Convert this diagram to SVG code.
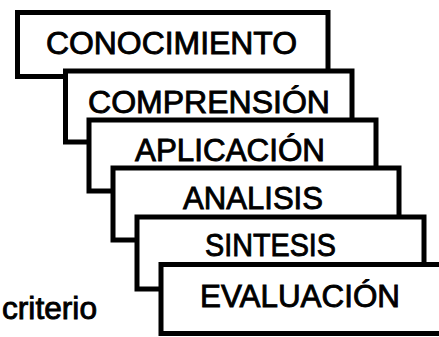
<svg xmlns="http://www.w3.org/2000/svg" width="439" height="337" viewBox="0 0 439 337">
<style>
.box{fill:#fff;stroke:#000;stroke-width:5;stroke-linejoin:miter}
.lbl{font-family:"Liberation Sans",Arial,sans-serif;font-size:32px;fill:#000;stroke:#000;stroke-width:0.9}
</style>
<rect width="439" height="337" fill="#fff"/>
<g id="conocimiento">
<rect class="box" x="17.5" y="12.5" width="310.5" height="64"/>
<text class="lbl" x="46" y="54" textLength="251" lengthAdjust="spacingAndGlyphs">CONOCIMIENTO</text>
</g>
<g id="comprension">
<rect class="box" x="65.5" y="71" width="286.5" height="71"/>
<text class="lbl" x="88" y="113" textLength="242" lengthAdjust="spacingAndGlyphs">COMPRENSIÓN</text>
</g>
<g id="aplicacion">
<rect class="box" x="89" y="120" width="287" height="71"/>
<text class="lbl" x="135" y="161" textLength="190" lengthAdjust="spacingAndGlyphs">APLICACIÓN</text>
</g>
<g id="analisis">
<rect class="box" x="113" y="168" width="286" height="72"/>
<text class="lbl" x="183" y="209" textLength="140" lengthAdjust="spacingAndGlyphs">ANALISIS</text>
</g>
<g id="sintesis">
<rect class="box" x="137" y="217" width="287" height="72"/>
<text class="lbl" x="205" y="256" textLength="131" lengthAdjust="spacingAndGlyphs">SINTESIS</text>
</g>
<g id="evaluacion">
<rect class="box" x="161" y="264.5" width="300" height="69"/>
<text class="lbl" x="200" y="307" textLength="200" lengthAdjust="spacingAndGlyphs">EVALUACIÓN</text>
</g>
<g id="criterio">
<text class="lbl" x="2" y="319" textLength="95" lengthAdjust="spacingAndGlyphs">criterio</text>
</g>
</svg>
